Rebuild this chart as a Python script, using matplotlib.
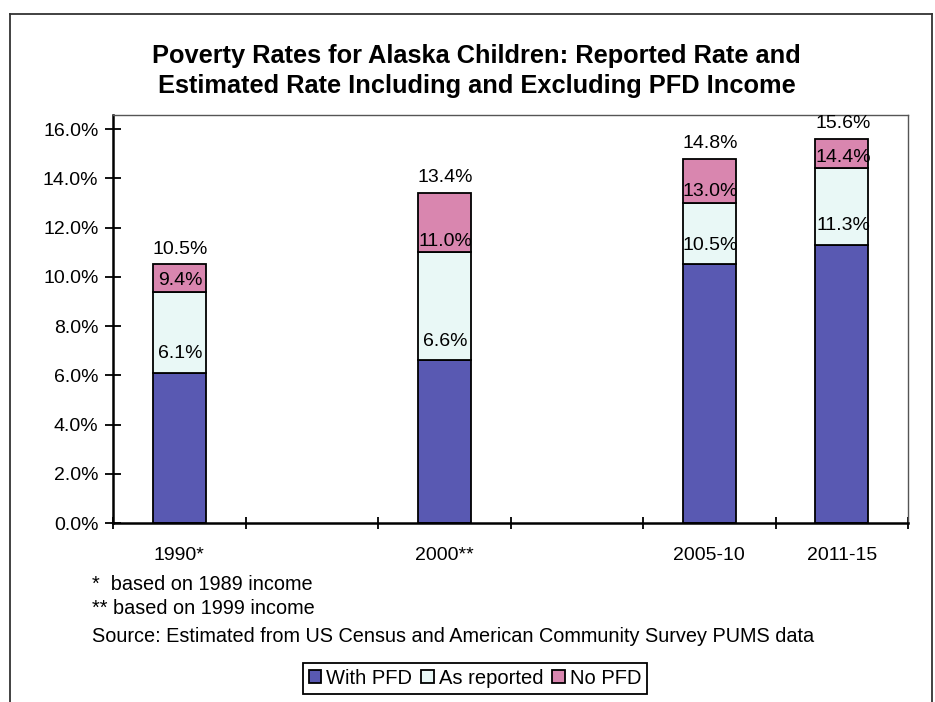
import numpy as np
import matplotlib.pyplot as plt
from matplotlib.lines import Line2D

plt.rcParams['font.family'] = ['Liberation Sans', 'DejaVu Sans']

# blank slots keep the gaps between the census years, as in the original sheet
categories = ['1990*', '', '2000**', '', '2005-10', '2011-15']
with_pfd = [6.1, np.nan, 6.6, np.nan, 10.5, 11.3]
as_reported = [9.4, np.nan, 11.0, np.nan, 13.0, 14.4]
no_pfd = [10.5, np.nan, 13.4, np.nan, 14.8, 15.6]

col_with = '#5959B2'
col_rep = '#E9F8F6'
col_no = '#D986AF'

x = np.arange(len(categories))
w_ = np.array(with_pfd)
r_ = np.array(as_reported)
n_ = np.array(no_pfd)

fig = plt.figure(figsize=(9.35, 7.02), dpi=100)
ax = fig.add_axes([113 / 935, 1 - 523 / 702, (908 - 113) / 935, (523 - 115) / 702])

bw = 0.4
ax.bar(x, w_, bw, color=col_with, edgecolor='black', linewidth=1.3, label='With PFD')
ax.bar(x, r_ - w_, bw, bottom=w_, color=col_rep, edgecolor='black', linewidth=1.3, label='As reported')
ax.bar(x, n_ - r_, bw, bottom=r_, color=col_no, edgecolor='black', linewidth=1.3, label='No PFD')

# value labels sit a little above each segment top
for series, off in ((w_, 14), (r_, 8), (n_, 11)):
    for xi, v in zip(x, series):
        if np.isnan(v):
            continue
        ax.annotate(f'{v:.1f}%', (xi, v), xytext=(1, off), textcoords='offset points',
                    ha='center', va='center', fontsize=14)

ax.set_xlim(-0.5, len(categories) - 0.5)
ax.set_ylim(0, 16.57)
ax.set_yticks(np.arange(0, 16.1, 2))
ax.set_yticklabels([f'{v:.1f}%' for v in np.arange(0, 16.1, 2)], fontsize=14)
ax.set_xticks(np.arange(-0.5, len(categories), 1))
ax.set_xticklabels([])
ax.set_xticks(x, minor=True)
ax.set_xticklabels(categories, minor=True, fontsize=14)
ax.tick_params(axis='x', which='minor', length=0, pad=17)
ax.tick_params(axis='y', which='major', direction='inout', length=11, width=1.3, pad=5)
ax.tick_params(axis='x', which='major', direction='inout', length=8, width=1.3)

for side in ('left', 'bottom'):
    ax.spines[side].set_linewidth(1.8)
for side in ('top', 'right'):
    ax.spines[side].set_color('#555555')
    ax.spines[side].set_linewidth(1.0)

fig.text(0.51, 1 - 71 / 702, 'Poverty Rates for Alaska Children: Reported Rate and\n'
         'Estimated Rate Including and Excluding PFD Income',
         ha='center', va='center', fontsize=18.3, fontweight='bold', linespacing=1.3)

fig.text(92 / 935, 1 - 584 / 702, '*  based on 1989 income', fontsize=14.3, va='center')
fig.text(92 / 935, 1 - 609 / 702, '** based on 1999 income', fontsize=14.3, va='center')
fig.text(92 / 935, 1 - 636 / 702, 'Source: Estimated from US Census and American Community Survey PUMS data',
         fontsize=14.3, va='center')

leg = fig.legend(loc='center', bbox_to_anchor=(475 / 935, 1 - 678.5 / 702), ncol=3, fontsize=14.5,
                 handlelength=0.62, handleheight=0.62, handletextpad=0.25, columnspacing=0.45,
                 fancybox=False, framealpha=1, edgecolor='black', borderpad=0.3,
                 borderaxespad=0)
leg.get_frame().set_linewidth(1.3)

# outer frame of the figure box
top = 1 - 14 / 702
fig.add_artist(Line2D([10 / 935, 10 / 935], [0, top], color='#333333', lw=1.3))
fig.add_artist(Line2D([10 / 935, 932 / 935], [top, top], color='#333333', lw=1.3))
fig.add_artist(Line2D([932 / 935, 932 / 935], [0, top], color='#333333', lw=1.3))

fig.savefig('out.png', dpi=100)
